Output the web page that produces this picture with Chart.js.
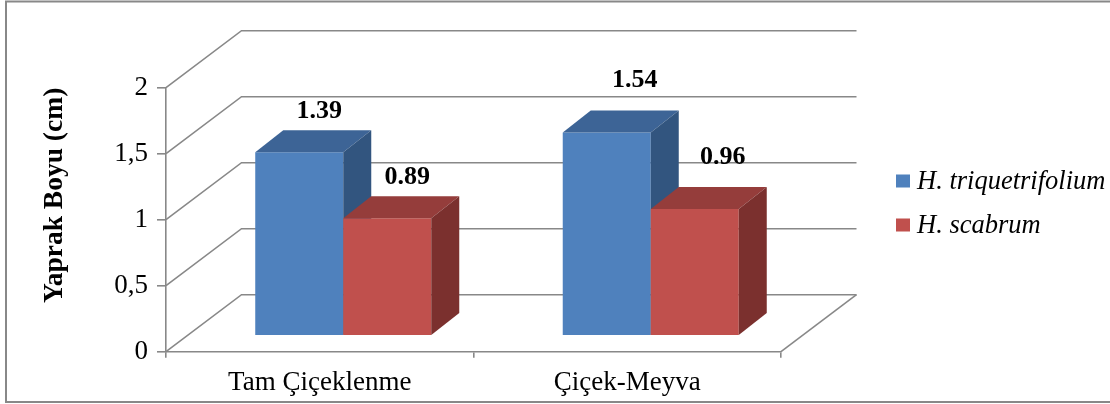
<!DOCTYPE html>
<html>
<head>
<meta charset="utf-8">
<script src="https://cdn.jsdelivr.net/npm/chart.js@4.4.0/dist/chart.umd.min.js"></script>
<style>
  html, body { margin: 0; padding: 0; background: #fff; }
  #wrap { width: 1110px; height: 404px; }
</style>
</head>
<body>
<div id="wrap"><canvas id="chart" width="1110" height="404"></canvas></div>
<script>
const categories = ['Tam Çiçeklenme', 'Çiçek-Meyva'];
const seriesNames = ['H. triquetrifolium', 'H. scabrum'];
const triquetrifolium = [1.39, 1.54];
const scabrum = [0.89, 0.96];
const yTicks = [0, 0.5, 1, 1.5, 2];

const FONT = '"Liberation Serif", "Times New Roman", serif';
const GRID = '#888888';
// colours of the front, top and side faces of each series
const faces = [
  { front: '#4f81bd', top: '#3d6496', side: '#32557f' },
  { front: '#c0504d', top: '#953d3b', side: '#7b302e' }
];
// 3D geometry: depth of the walls, where the bars sit inside the box, bar depth
const WALL = { dx: 75.5, dy: -57 };
const BAR_SHIFT = { dx: 23.5, dy: -16 };
const BAR_DEPTH = { dx: 28, dy: -22 };
const LABEL_NUDGE = [{ dx: 20, dy: -41 }, { dx: 28, dy: -52 }];

const poly = (ctx, pts, fill) => {
  ctx.beginPath();
  ctx.moveTo(pts[0][0], pts[0][1]);
  for (let k = 1; k < pts.length; k++) ctx.lineTo(pts[k][0], pts[k][1]);
  ctx.closePath();
  ctx.fillStyle = fill;
  ctx.fill();
};

const box3d = {
  id: 'box3d',
  beforeDraw(chart) {
    const ctx = chart.ctx;
    ctx.save();
    ctx.strokeStyle = GRID;
    ctx.lineWidth = 2;
    ctx.strokeRect(6, 1.5, 1120, 400.5);
    ctx.restore();
  },
  beforeDatasetsDraw(chart) {
    const { ctx, chartArea: a, scales: { y } } = chart;
    ctx.save();

    // side wall + back wall grid lines
    ctx.strokeStyle = GRID;
    ctx.lineWidth = 1.6;
    yTicks.forEach(v => {
      const py = y.getPixelForValue(v);
      ctx.beginPath();
      ctx.moveTo(a.left, py);
      ctx.lineTo(a.left + WALL.dx, py + WALL.dy);
      ctx.lineTo(a.right + WALL.dx, py + WALL.dy);
      ctx.stroke();
    });
    // right edge of the floor
    ctx.beginPath();
    ctx.moveTo(a.right, a.bottom);
    ctx.lineTo(a.right + WALL.dx, a.bottom + WALL.dy);
    ctx.stroke();

    // bars as boxes, drawn series by series inside each category
    const metas = chart.data.datasets.map((d, i) => chart.getDatasetMeta(i));
    categories.forEach((c, j) => {
      metas.forEach((meta, i) => {
        const bar = meta.data[j];
        const f = faces[i];
        const l = bar.x - bar.width / 2 + BAR_SHIFT.dx;
        const r = bar.x + bar.width / 2 + BAR_SHIFT.dx;
        const t = bar.y + BAR_SHIFT.dy;
        const b = bar.base + BAR_SHIFT.dy;
        const ddx = BAR_DEPTH.dx, ddy = BAR_DEPTH.dy;
        poly(ctx, [[l, t], [r, t], [r, b], [l, b]], f.front);
        poly(ctx, [[l, t], [l + ddx, t + ddy], [r + ddx, t + ddy], [r, t]], f.top);
        poly(ctx, [[r, t], [r + ddx, t + ddy], [r + ddx, b + ddy], [r, b]], f.side);
      });
    });

    // value labels
    ctx.fillStyle = '#000';
    ctx.font = 'bold 26px ' + FONT;
    ctx.textAlign = 'center';
    ctx.textBaseline = 'middle';
    metas.forEach((meta, i) => {
      const values = chart.data.datasets[i].data;
      meta.data.forEach((bar, j) => {
        const n = LABEL_NUDGE[j];
        ctx.fillText(values[j].toFixed(2), bar.x + BAR_SHIFT.dx + n.dx, bar.y + BAR_SHIFT.dy + n.dy);
      });
    });
    ctx.restore();
    return false;
  },
  afterDraw(chart) {
    // legend on the right
    const ctx = chart.ctx;
    ctx.save();
    ctx.font = 'italic 26.5px ' + FONT;
    ctx.textBaseline = 'middle';
    ctx.textAlign = 'left';
    chart.data.datasets.forEach((ds, i) => {
      const cy = 181 + i * 44;
      ctx.fillStyle = ds.backgroundColor;
      ctx.fillRect(896, cy - 6.5, 14, 13);
      ctx.fillStyle = '#000';
      ctx.fillText(ds.label, 917, cy + 1);
    });
    ctx.restore();
  }
};

new Chart(document.getElementById('chart'), {
  type: 'bar',
  data: {
    labels: categories,
    datasets: [
      { label: seriesNames[0], data: triquetrifolium, backgroundColor: faces[0].front },
      { label: seriesNames[1], data: scabrum, backgroundColor: faces[1].front }
    ]
  },
  options: {
    responsive: false,
    animation: false,
    layout: { padding: { top: 87.7, right: 329, left: 0, bottom: 0 } },
    datasets: { bar: { categoryPercentage: 0.5724, barPercentage: 1 } },
    plugins: { legend: { display: false }, tooltip: { enabled: false } },
    scales: {
      x: {
        grid: { drawOnChartArea: false, offset: true, tickLength: 6, color: GRID, lineWidth: 1.6 },
        border: { color: GRID, width: 1.6 },
        ticks: { color: '#000', padding: 9, font: { family: FONT, size: 27 } },
        afterFit(scale) { scale.height = 52.3; }
      },
      y: {
        min: 0,
        max: 2,
        grid: { drawOnChartArea: false, tickLength: 9, color: GRID, lineWidth: 1.6 },
        border: { color: GRID, width: 1.6 },
        ticks: {
          stepSize: 0.5,
          padding: 9,
          color: '#000',
          font: { family: FONT, size: 27 },
          callback: v => String(v).replace('.', ',')
        },
        title: {
          display: true,
          text: 'Yaprak Boyu (cm)',
          align: 'end',
          color: '#000',
          padding: { top: 38.5 },
          font: { family: FONT, size: 27.5, weight: 'bold' }
        },
        afterFit(scale) { scale.width = 166; }
      }
    }
  },
  plugins: [box3d]
});
</script>
</body>
</html>
